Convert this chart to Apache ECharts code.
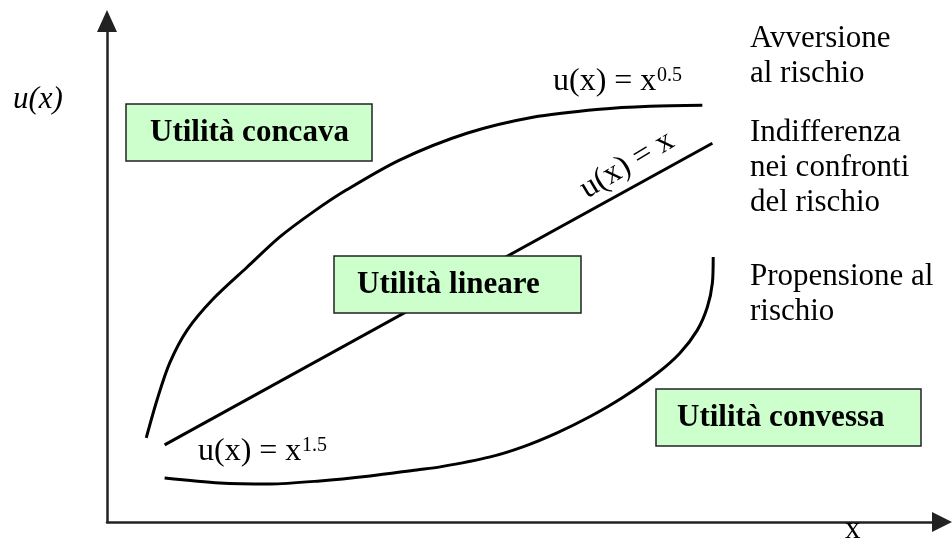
<!DOCTYPE html>
<html>
<head>
<meta charset="utf-8">
<script src="https://cdn.jsdelivr.net/npm/echarts@6/dist/echarts.min.js"></script>
<style>
  html, body { margin: 0; padding: 0; background: #fff; }
  #chart { width: 952px; height: 542px; }
</style>
</head>
<body>
<div id="chart"></div>
<script>
// valori (unità arbitrarie 0-100)
var concaveX = [4.7, 6.0, 7.5, 9.6, 12.7, 16.8, 20.7, 24.7, 28.7, 35.1, 43.1, 51.0, 59.0, 65.0, 71.3];
var concaveY = [16.8, 24.4, 31.7, 38.3, 44.5, 50.9, 56.9, 61.9, 66.3, 72.3, 77.6, 80.8, 82.4, 83.0, 83.2];
var linearX = [6.9, 72.5];
var linearY = [15.4, 75.6];
var convexX = [6.9, 13.5, 19.5, 25.5, 31.5, 37.1, 39.9, 45.9, 49.8, 53.9, 57.8, 61.8, 65.9, 68.6, 70.7, 71.9, 72.5, 72.6];
var convexY = [8.8, 7.8, 7.6, 8.2, 9.2, 10.4, 11.0, 13.0, 15.0, 17.8, 21.0, 24.9, 29.7, 33.7, 38.3, 42.9, 47.7, 52.9];

function zip(xs, ys) {
  return xs.map(function (x, i) { return [x, ys[i]]; });
}

var serif = '"Liberation Serif", "Times New Roman", serif';
var chart = echarts.init(document.getElementById("chart"));

var lineStyle = { color: "#000", width: 3 };

function box(x1, y1, x2, y2, label, textX) {
  return [
    {
      type: "rect",
      shape: { x: x1, y: y1, width: x2 - x1, height: y2 - y1 },
      style: { fill: "#ccffcc", stroke: "#222", lineWidth: 1.5 },
      z: 10
    },
    {
      type: "text",
      x: textX,
      y: (y1 + y2) / 2,
      style: {
        text: label,
        font: "bold 31px " + serif,
        fill: "#000",
        align: "left",
        verticalAlign: "middle"
      },
      z: 11
    }
  ];
}

function txt(x, y, text, font) {
  return {
    type: "text",
    x: x,
    y: y,
    style: {
      text: text,
      font: font,
      fill: "#000",
      align: "left",
      verticalAlign: "middle"
    },
    z: 12
  };
}

function block(x, y, text) {
  return {
    type: "text",
    x: x,
    y: y,
    style: {
      text: text,
      font: "31px " + serif,
      fill: "#000",
      lineHeight: 35,
      verticalAlign: "top"
    }
  };
}

var graphics = []
  .concat(box(126, 104, 372, 161, "Utilità concava", 150))
  .concat(box(334, 256, 581, 313, "Utilità lineare", 357))
  .concat(box(656, 389, 921, 446, "Utilità convessa", 677))
  .concat([
    txt(13, 100, "u(x)", "italic 31px " + serif),
    txt(845, 530, "x", "31px " + serif),
    // etichette delle curve
    txt(553, 82, "u(x) = x", "32px " + serif),
    txt(657, 76, "0.5", "20px " + serif),
    txt(198, 452, "u(x) = x", "32px " + serif),
    txt(302, 446, "1.5", "20px " + serif),
    {
      type: "text",
      x: 627,
      y: 165,
      rotation: 0.54,
      style: {
        text: "u(x) = x",
        font: "32px " + serif,
        fill: "#000",
        align: "center",
        verticalAlign: "middle"
      },
      z: 12
    },
    // etichette a destra
    block(750, 21, "Avversione\nal rischio"),
    block(750, 115, "Indifferenza\nnei confronti\ndel rischio"),
    block(750, 259, "Propensione al\nrischio")
  ]);

var option = {
  backgroundColor: "#fff",
  animation: false,
  grid: { left: 107, right: 10, top: 21, bottom: 20 },
  xAxis: {
    type: "value",
    min: 0,
    max: 100,
    axisLine: {
      show: true,
      symbol: ["none", "triangle"],
      symbolSize: [20, 20],
      lineStyle: { color: "#222", width: 2.5 }
    },
    axisTick: { show: false },
    axisLabel: { show: false },
    splitLine: { show: false }
  },
  yAxis: {
    type: "value",
    min: 0,
    max: 100,
    axisLine: {
      show: true,
      symbol: ["none", "triangle"],
      symbolSize: [20, 22],
      lineStyle: { color: "#222", width: 2.5 }
    },
    axisTick: { show: false },
    axisLabel: { show: false },
    splitLine: { show: false }
  },
  series: [
    {
      name: "concava",
      type: "line",
      smooth: 0.3,
      showSymbol: false,
      lineStyle: lineStyle,
      data: zip(concaveX, concaveY)
    },
    {
      name: "lineare",
      type: "line",
      showSymbol: false,
      lineStyle: lineStyle,
      data: zip(linearX, linearY)
    },
    {
      name: "convessa",
      type: "line",
      smooth: 0.3,
      showSymbol: false,
      lineStyle: lineStyle,
      data: zip(convexX, convexY)
    }
  ],
  graphic: graphics
};

chart.setOption(option);
window.addEventListener("resize", function () {
  chart.resize();
});
</script>
</body>
</html>
